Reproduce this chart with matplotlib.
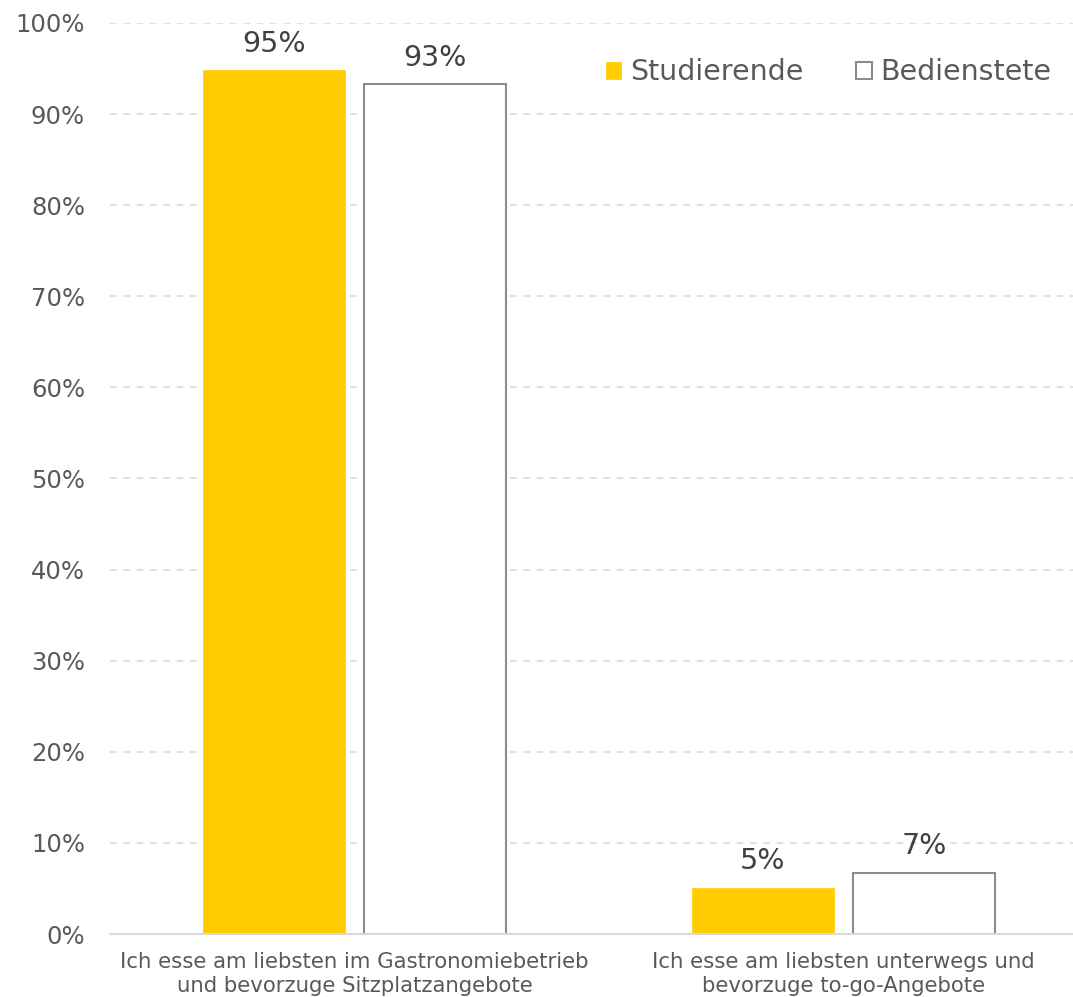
import matplotlib
matplotlib.use("Agg")
import matplotlib.pyplot as plt
import numpy as np

plt.rcParams["font.family"] = ["DejaVu Sans"]

categories = ["Ich esse am liebsten im Gastronomiebetrieb\nund bevorzuge Sitzplatzangebote",
              "Ich esse am liebsten unterwegs und\nbevorzuge to-go-Angebote"]
series_names = ["Studierende", "Bedienstete"]
studierende = [94.8, 5.05]
bedienstete = [93.3, 6.7]
labels_stud = ["95%", "5%"]
labels_bed = ["93%", "7%"]
yticks = [0, 10, 20, 30, 40, 50, 60, 70, 80, 90, 100]
ytick_labels = [f"{v}%" for v in yticks]

W, H = 1073, 997
fig = plt.figure(figsize=(W/100, H/100), dpi=100)
ax = fig.add_axes([110/W, 1-934/H, (1073-110)/W, (934-23)/H])

txt = "#595959"
x = np.arange(len(categories))
bw = 0.29
off = 0.165
b1 = ax.bar(x - off, studierende, bw, color="#FFCC00", edgecolor="#FFCC00", linewidth=0.5, label=series_names[0], zorder=3)
b2 = ax.bar(x + off, bedienstete, bw, color="white", edgecolor="#8C8C8C", linewidth=1.5, label=series_names[1], zorder=3)

for rect, lab in zip(b1, labels_stud):
    ax.annotate(lab, (rect.get_x() + rect.get_width()/2, rect.get_height()), xytext=(0, 9),
                textcoords="offset points", ha="center", va="bottom", fontsize=20.5, color="#404040")
for rect, lab in zip(b2, labels_bed):
    ax.annotate(lab, (rect.get_x() + rect.get_width()/2, rect.get_height()), xytext=(0, 9),
                textcoords="offset points", ha="center", va="bottom", fontsize=20.5, color="#404040")

ax.set_xlim(-0.5, 1.469)
ax.set_ylim(0, 100)
ax.set_yticks(yticks)
ax.set_yticklabels(ytick_labels, fontsize=17.5, color=txt)
ax.set_xticks(x)
ax.set_xticklabels(categories, fontsize=15.3, color=txt, linespacing=1.22)
ax.tick_params(axis="both", length=0)
ax.tick_params(axis="y", pad=18)
ax.tick_params(axis="x", pad=13)

ax.yaxis.grid(True, linestyle=(0, (4, 4)), color="#D9D9D9", linewidth=1.2, zorder=0)
for s in ["left", "right", "top"]:
    ax.spines[s].set_visible(False)
ax.spines["bottom"].set_color("#D9D9D9")
ax.spines["bottom"].set_linewidth(1.5)
ax.spines["bottom"].set_zorder(4)

leg = ax.legend(loc="upper right", bbox_to_anchor=(0.995, 0.98), ncol=2, frameon=False,
                fontsize=20.5, handlelength=0.55, handleheight=0.55, handletextpad=0.3,
                columnspacing=1.85, labelcolor=txt, borderaxespad=0.2)

fig.savefig("out.png", dpi=100)
